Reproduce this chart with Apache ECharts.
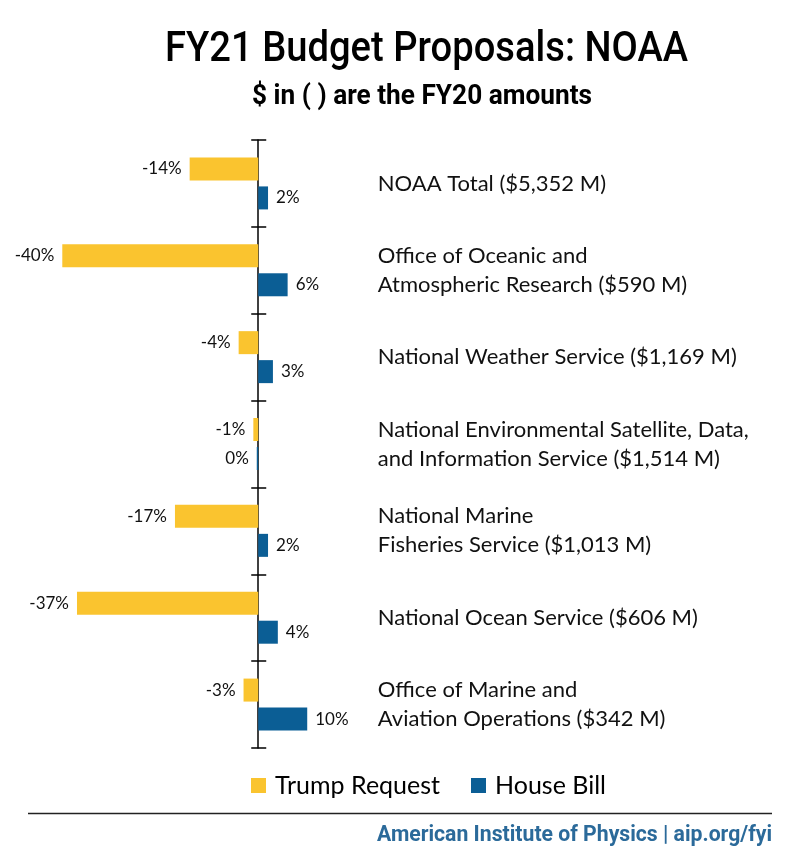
<!DOCTYPE html>
<html><head><meta charset="utf-8">
<script src="https://cdn.jsdelivr.net/npm/echarts@6/dist/echarts.min.js"></script>
<style>html,body{margin:0;padding:0;background:#fff}#c{width:800px;height:860px}</style>
</head><body><div id="c"></div>
<script>
const categories = [
  'NOAA Total ($5,352 M)',
  'Office of Oceanic and\nAtmospheric Research ($590 M)',
  'National Weather Service ($1,169 M)',
  'National Environmental Satellite, Data,\nand Information Service ($1,514 M)',
  'National Marine\nFisheries Service ($1,013 M)',
  'National Ocean Service ($606 M)',
  'Office of Marine and\nAviation Operations ($342 M)'
];
const trumpRequest = [-14, -40, -4, -1, -17, -37, -3];
const houseBill = [2, 6, 3, -0.3, 2, 4, 10];
const seriesNames = ['Trump Request', 'House Bill'];
const titleText = 'FY21 Budget Proposals: NOAA';
const subtitleText = '$ in ( ) are the FY20 amounts';
const footerText = 'American Institute of Physics | aip.org/fyi';

const LABEL_FONT = 'Lato';
const COND_FONT = 'Roboto';

// measure text to condense it horizontally to the reference width
const mctx = document.createElement('canvas').getContext('2d');
function fitScale(text, font, targetWidth) {
  mctx.font = font;
  return targetWidth / mctx.measureText(text).width;
}
const titleFont = '500 42px ' + COND_FONT;
const subFont = 'bold 28px ' + COND_FONT;
const footFont = 'bold 22.5px ' + COND_FONT;

function toItems(arr) {
  return arr.map(v => ({ value: v, label: { position: v < 0 ? 'left' : 'right' } }));
}
const valueLabel = {
  show: true,
  distance: 8,
  fontFamily: LABEL_FONT,
  fontSize: 17,
  color: '#111',
  formatter: p => Math.round(p.value) + '%'
};

const chart = echarts.init(document.getElementById('c'), null, { renderer: 'canvas' });
chart.setOption({
  backgroundColor: '#fff',
  animation: false,
  legend: {
    data: seriesNames,
    left: 251, top: 773, padding: 0,
    itemWidth: 15, itemHeight: 15, itemGap: 31,
    icon: 'rect',
    textStyle: { fontFamily: LABEL_FONT, fontSize: 25, color: '#000', padding: [0, 0, 0, 4] }
  },
  grid: { left: 37.8, top: 140, width: 338, height: 608 },
  xAxis: [
    { type: 'value', min: -45, max: 24, show: false },
    { type: 'value', min: -45, max: 24, show: false }
  ],
  yAxis: [
    { type: 'category', data: categories, inverse: true, position: 'left',
      axisLine: { show: true, onZero: true, onZeroAxisIndex: 0, lineStyle: { color: '#000', width: 1.5 } },
      axisTick: { show: true, inside: false, length: 7, lineStyle: { color: '#000', width: 1.5 } },
      axisLabel: { show: false }, splitLine: { show: false } },
    { type: 'category', data: categories, inverse: true, position: 'left',
      axisLine: { show: true, onZero: true, onZeroAxisIndex: 1, lineStyle: { color: 'rgba(0,0,0,0)', width: 0 } },
      axisTick: { show: true, inside: true, length: 8, lineStyle: { color: '#000', width: 1.5 } },
      axisLabel: { show: false }, splitLine: { show: false } },
    { type: 'category', data: categories, inverse: true, position: 'right',
      axisLine: { show: false, onZero: false },
      axisTick: { show: false },
      axisLabel: { show: true, align: 'left', margin: 2, fontFamily: LABEL_FONT, fontSize: 22, lineHeight: 29, color: '#111' },
      splitLine: { show: false } }
  ],
  series: [
    { name: seriesNames[0], type: 'bar', xAxisIndex: 0, yAxisIndex: 0, data: toItems(trumpRequest),
      barWidth: 23, barGap: '26%', itemStyle: { color: '#FAC42F' }, label: valueLabel },
    { name: seriesNames[1], type: 'bar', xAxisIndex: 0, yAxisIndex: 0, data: toItems(houseBill),
      barWidth: 23, barGap: '26%', itemStyle: { color: '#0B5E95' }, label: valueLabel }
  ],
  graphic: [
    { type: 'text', x: 165, y: 50, scaleX: fitScale(titleText, titleFont, 523),
      style: { text: titleText, font: titleFont, fill: '#000', align: 'left', verticalAlign: 'middle' } },
    { type: 'text', x: 252, y: 97, scaleX: fitScale(subtitleText, subFont, 340),
      style: { text: subtitleText, font: subFont, fill: '#000', align: 'left', verticalAlign: 'middle' } },
    { type: 'line', shape: { x1: 28, y1: 813.5, x2: 772, y2: 813.5 }, style: { stroke: '#222', lineWidth: 1.5 } },
    { type: 'text', x: 772, y: 835, scaleX: fitScale(footerText, footFont, 395),
      style: { text: footerText, font: footFont, fill: '#2B6A9A', align: 'right', verticalAlign: 'middle' } }
  ]
});
</script></body></html>
